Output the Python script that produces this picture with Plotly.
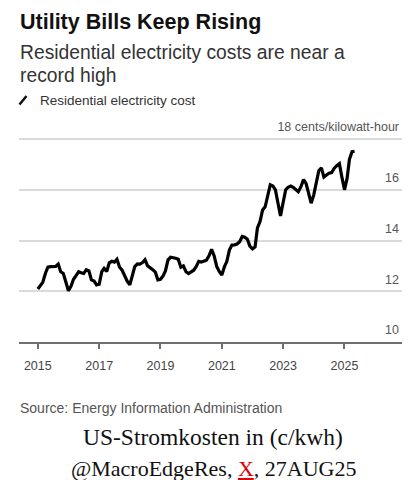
import plotly.graph_objects as go
import pandas as pd

# Average US residential electricity price, monthly, Jan 2015 - May 2025 (cents/kWh)
months = pd.date_range("2015-01-01", periods=125, freq="MS")
cost = [
    12.09, 12.25, 12.35, 12.70, 12.95, 12.97, 12.97, 12.98, 13.07, 12.77, 12.70, 12.40,
    12.02, 12.20, 12.47, 12.62, 12.77, 12.73, 12.70, 12.85, 12.80, 12.45, 12.40, 12.25,
    12.28, 12.77, 12.90, 12.78, 13.12, 13.18, 13.15, 13.26, 12.95, 12.83, 12.60, 12.40,
    12.25, 12.62, 12.97, 13.08, 13.07, 13.13, 13.24, 13.00, 12.93, 12.85, 12.75, 12.45,
    12.47, 12.60, 12.80, 13.24, 13.34, 13.33, 13.30, 13.26, 12.95, 13.00, 12.77, 12.70,
    12.77, 12.83, 12.97, 13.18, 13.15, 13.17, 13.22, 13.40, 13.65, 13.40, 12.98, 12.78,
    12.64, 12.97, 13.17, 13.62, 13.82, 13.83, 13.86, 13.95, 14.16, 14.13, 14.05, 13.78,
    13.67, 13.75, 14.50, 14.75, 15.20, 15.33, 15.80, 16.20, 16.15, 16.00, 15.47, 14.97,
    15.50, 16.00, 16.10, 16.15, 16.10, 16.00, 15.92, 16.12, 16.40, 16.25, 15.80, 15.47,
    15.80, 16.25, 16.75, 16.86, 16.50, 16.58, 16.65, 16.68, 16.85, 16.95, 17.03, 16.50,
    16.00, 16.45, 17.20, 17.50, 17.52,
]

x_tick_years = [2015, 2017, 2019, 2021, 2023, 2025]
y_tick_vals = [10, 12, 14, 16, 18]
y_tick_text = ["10", "12", "14", "16", "18 cents/kilowatt-hour"]

SANS = "Liberation Sans, Arial, sans-serif"
SERIF = "Liberation Serif, Times New Roman, serif"

fig = go.Figure()
fig.add_trace(go.Scatter(
    x=months, y=cost, mode="lines",
    line=dict(color="#000000", width=3.2),
    showlegend=False, hoverinfo="skip",
))

# plot area: 10 -> 18.08 so the 18 gridline sits just inside the top edge
fig.update_layout(
    width=414, height=480,
    margin=dict(l=19, r=12, t=137, b=138),
    paper_bgcolor="white", plot_bgcolor="white",
    xaxis=dict(
        range=["2014-05-22", "2026-11-17"],
        tickvals=[f"{y}-01-01" for y in x_tick_years],
        ticktext=[str(y) for y in x_tick_years],
        showgrid=False, zeroline=False,
        showline=True, linecolor="#6f6f6f", linewidth=1.5,
        ticks="outside", ticklen=5, tickwidth=1.5, tickcolor="#6f6f6f",
        ticklabelstandoff=6,
        tickfont=dict(family=SANS, size=12.5, color="#444444"),
        fixedrange=True,
    ),
    yaxis=dict(
        range=[10, 18.08], side="right",
        tickvals=y_tick_vals, ticktext=y_tick_text,
        ticklabelposition="inside", ticklabelshift=-12, ticklabeloverflow="allow",
        showgrid=True, gridcolor="#dadada", gridwidth=1.5,
        zeroline=False, showline=False, ticks="",
        tickfont=dict(family=SANS, size=12.5, color="#555555"),
        fixedrange=True,
    ),
)

PLOT_TOP, PLOT_BOTTOM, PLOT_LEFT, PLOT_WIDTH = 137, 342, 19, 383


def py(pixel_y):
    """Paper y for a pixel row measured from the top of the page."""
    return (PLOT_BOTTOM - pixel_y) / (PLOT_BOTTOM - PLOT_TOP)


def px(pixel_x):
    return (pixel_x - PLOT_LEFT) / PLOT_WIDTH


def note(text, x, y, size, color, family=SANS, xanchor="left"):
    fig.add_annotation(text=text, x=x, y=y, xref="paper", yref="paper",
                       xanchor=xanchor, yanchor="middle", showarrow=False,
                       font=dict(family=family, size=size, color=color))

note("<b>Utility Bills Keep Rising</b>", px(17.5), py(22), 21.5, "#111111")
note("Residential electricity costs are near a", px(17.5), py(52), 19.3, "#333333")
note("record high", px(17.5), py(75), 19.3, "#333333")
note("Residential electricity cost", px(38), py(100), 13.5, "#333333")
note("Source: Energy Information Administration", px(17.5), py(408), 14, "#555555")
note("US-Stromkosten in (c/kwh)", px(213), py(437), 23.5, "#111111", SERIF, "center")
note("@MacroEdgeRes, <span style='color:#e00000'><u>X</u></span>, 27AUG25",
     px(213), py(468), 22, "#111111", SERIF, "center")

# legend swatch: short slanted stroke
fig.add_shape(type="line", xref="paper", yref="paper",
              x0=px(19.5), y0=py(104.5), x1=px(26.5), y1=py(96),
              line=dict(color="#111111", width=2.5))

fig.write_html("out.html")
